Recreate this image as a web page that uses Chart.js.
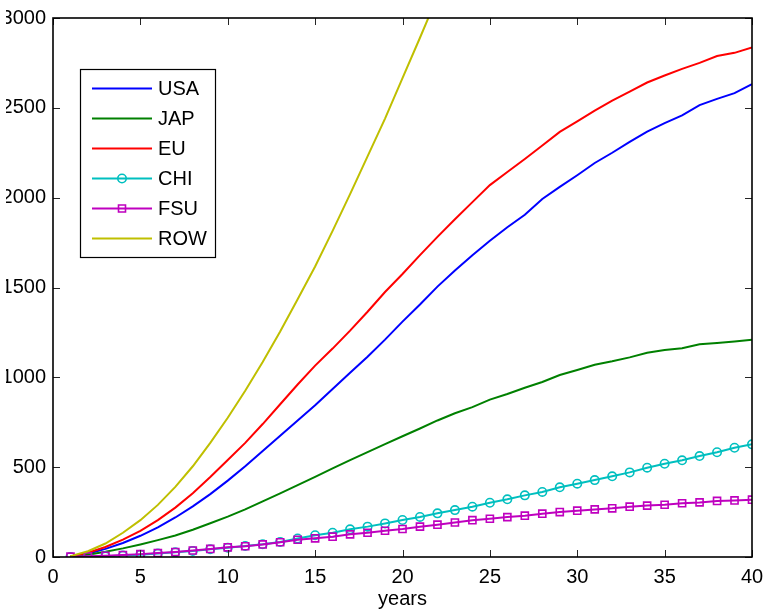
<!DOCTYPE html>
<html>
<head>
<meta charset="utf-8">
<script src="https://cdn.jsdelivr.net/npm/chart.js@4/dist/chart.umd.min.js"></script>
<style>
  html, body { margin: 0; padding: 0; background: #fff; overflow: hidden; }
  #clip { position: absolute; left: 6px; top: 0; width: 758px; height: 609px; overflow: hidden; }
  #wrap { position: absolute; left: -6px; top: 0; width: 764px; height: 609px; }
</style>
</head>
<body>
<div id="clip"><div id="wrap"><canvas id="c" width="764" height="609"></canvas></div></div>
<script>
const years = [1,2,3,4,5,6,7,8,9,10,11,12,13,14,15,16,17,18,19,20,21,22,23,24,25,26,27,28,29,30,31,32,33,34,35,36,37,38,39,40];
const seriesNames = ['USA','JAP','EU','CHI','FSU','ROW'];
const usa = [2,18,45,78,118,165,220,282,350,425,505,590,675,760,845,935,1025,1115,1210,1310,1405,1505,1595,1680,1760,1835,1905,1993,2060,2125,2193,2250,2310,2368,2415,2458,2515,2550,2582,2632];
const jap = [3,13,29,48,70,94,120,152,188,225,265,310,354,400,446,493,539,584,628,672,715,760,800,834,876,907,942,974,1013,1041,1070,1089,1111,1137,1152,1162,1184,1191,1200,1209];
const eu  = [3,24,56,97,145,205,275,355,445,540,635,740,850,960,1065,1160,1260,1365,1475,1575,1680,1782,1880,1975,2070,2143,2215,2290,2366,2425,2485,2540,2590,2641,2680,2717,2750,2788,2806,2836];
const chi = [0,2,4,8,13,19,26,34,43,52,61,71,84,103,121,135,154,169,187,206,223,243,261,280,302,321,343,362,388,408,428,449,471,497,519,538,562,583,608,627];
const fsu = [2,4,7,11,16,22,28,36,45,54,60,70,82,96,104,113,126,135,146,156,169,180,192,205,213,222,230,241,250,258,265,271,280,286,291,299,304,312,315,319];
const row = [5,32,75,135,205,290,390,505,635,775,925,1085,1255,1435,1617,1815,2020,2230,2440,2665,2890,3120];
const xTicks = [0,5,10,15,20,25,30,35,40];
const yTicks = [0,500,1000,1500,2000,2500,3000];
const xTitle = 'years';

const FONT = "'Liberation Sans', Arial, Helvetica, sans-serif";
const toPts = vals => vals.map((v, i) => ({x: years[i], y: v}));

function ds(label, vals, color, marker) {
  return {
    label, data: toPts(vals), borderColor: color, backgroundColor: 'rgba(0,0,0,0)',
    borderWidth: 2, tension: 0,
    pointStyle: marker || 'circle',
    pointRadius: marker ? (marker === 'rect' ? 5 : 4.2) : 0,
    pointBorderWidth: 1.6, pointBorderColor: color, pointBackgroundColor: 'rgba(0,0,0,0)',
    pointHoverRadius: 0
  };
}

const datasets = [
  ds(seriesNames[0], usa, '#0000ff'),
  ds(seriesNames[1], jap, '#008000'),
  ds(seriesNames[2], eu,  '#ff0000'),
  ds(seriesNames[3], chi, '#00bfbf', 'circle'),
  ds(seriesNames[4], fsu, '#bf00bf', 'rect'),
  ds(seriesNames[5], row, '#bfbf00')
];
datasets.forEach((d, i) => d.order = datasets.length - i);

const framePlugin = {
  id: 'frame',
  afterDatasetsDraw(chart) {
    const {ctx, chartArea: a, scales: {x, y}} = chart;
    ctx.save();
    ctx.strokeStyle = '#262626';
    ctx.lineWidth = 1;
    const tl = 7;
    xTicks.forEach(v => {
      const px = Math.round(x.getPixelForValue(v)) + 0.5;
      ctx.beginPath();
      ctx.moveTo(px, a.bottom); ctx.lineTo(px, a.bottom - tl);
      ctx.moveTo(px, a.top); ctx.lineTo(px, a.top + tl);
      ctx.stroke();
    });
    yTicks.forEach(v => {
      const py = Math.round(y.getPixelForValue(v)) + 0.5;
      ctx.beginPath();
      ctx.moveTo(a.left, py); ctx.lineTo(a.left + tl, py);
      ctx.moveTo(a.right, py); ctx.lineTo(a.right - tl, py);
      ctx.stroke();
    });
    ctx.strokeStyle = '#000';
    ctx.lineWidth = 1.6;
    ctx.strokeRect(a.left, a.top, a.right - a.left, a.bottom - a.top);
    ctx.restore();
  },
  afterDraw(chart) {
    const {ctx} = chart;
    const bx = 80, by = 69, bw = 135, bh = 188;
    ctx.save();
    ctx.fillStyle = '#fff';
    ctx.fillRect(bx, by, bw, bh);
    ctx.strokeStyle = '#000';
    ctx.lineWidth = 1.2;
    ctx.strokeRect(bx + 0.5, by + 0.5, bw, bh);
    chart.data.datasets.forEach((d, i) => {
      const yy = 88.5 + i * 30;
      ctx.strokeStyle = d.borderColor;
      ctx.lineWidth = 2;
      ctx.beginPath(); ctx.moveTo(92, yy); ctx.lineTo(152, yy); ctx.stroke();
      if (d.pointRadius > 0) {
        ctx.lineWidth = 1.6;
        ctx.beginPath();
        if (d.pointStyle === 'rect') {
          ctx.rect(122 - 3.5, yy - 3.5, 7, 7);
        } else {
          ctx.arc(122, yy, 4.2, 0, Math.PI * 2);
        }
        ctx.stroke();
      }
      ctx.fillStyle = '#000';
      ctx.font = '20px ' + FONT;
      ctx.textAlign = 'left';
      ctx.textBaseline = 'middle';
      ctx.fillText(d.label, 158, yy + 1);
    });
    ctx.restore();
  }
};

new Chart(document.getElementById('c'), {
  type: 'line',
  data: { datasets },
  options: {
    responsive: false,
    animation: false,
    events: [],
    layout: { padding: { left: 0, right: 12, top: 18, bottom: 0 } },
    plugins: { legend: { display: false }, tooltip: { enabled: false } },
    scales: {
      x: {
        type: 'linear', min: 0, max: 40,
        afterBuildTicks: s => { s.ticks = xTicks.map(v => ({value: v})); },
        afterFit: s => { s.height = 52; s.paddingRight = 0; s.paddingLeft = 0; },
        grid: { display: false, drawTicks: false },
        border: { display: false },
        ticks: { color: '#000', font: { family: FONT, size: 20 }, padding: 8, maxRotation: 0, autoSkip: false,
                 callback: v => String(v) },
        title: { display: true, text: xTitle, color: '#000', font: { family: FONT, size: 20, lineHeight: 1 }, padding: { top: 0, bottom: 0 } }
      },
      y: {
        type: 'linear', min: 0, max: 3000,
        afterBuildTicks: s => { s.ticks = yTicks.map(v => ({value: v})); },
        afterFit: s => { s.width = 53; s.paddingTop = 0; s.paddingBottom = 0; },
        grid: { display: false, drawTicks: false },
        border: { display: false },
        ticks: { color: '#000', font: { family: FONT, size: 20 }, padding: 7, autoSkip: false,
                 callback: v => String(v) }
      }
    }
  },
  plugins: [framePlugin]
});
</script>
</body>
</html>
